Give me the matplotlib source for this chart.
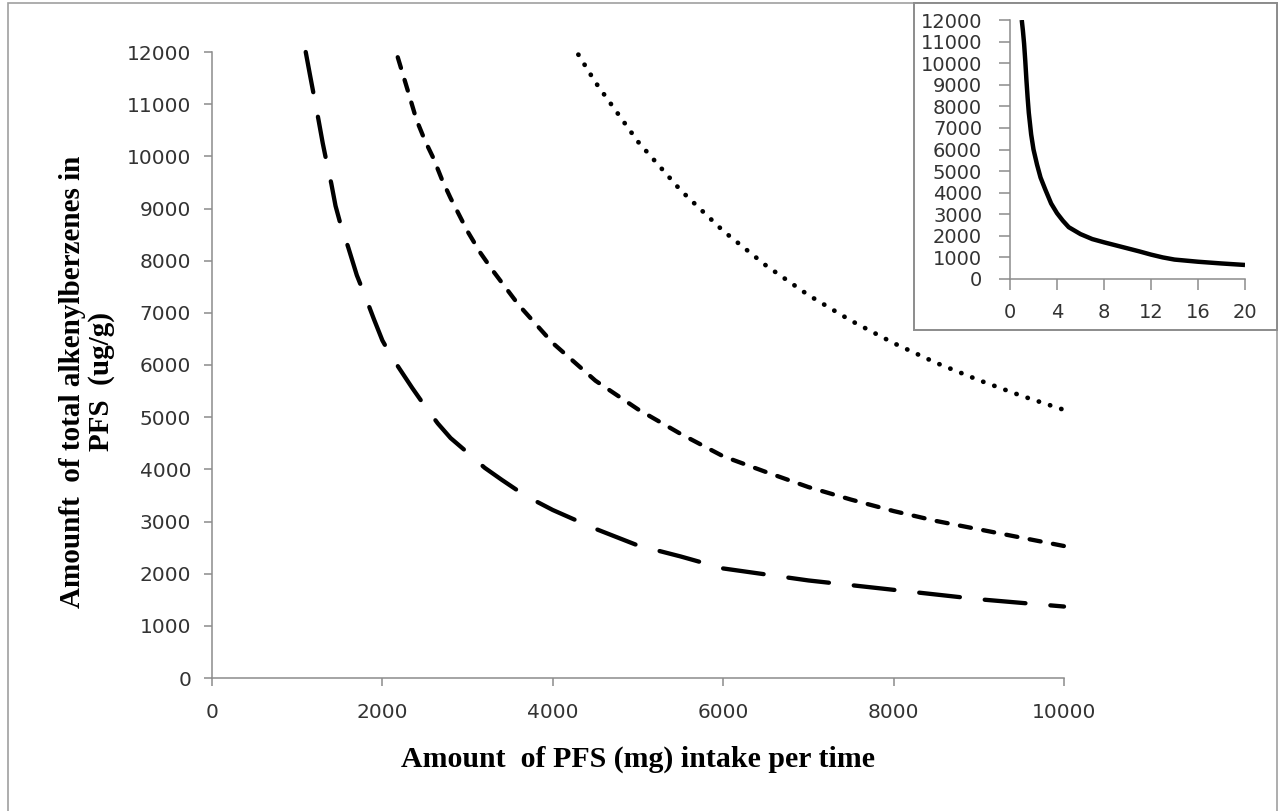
import matplotlib
matplotlib.use("Agg")
import matplotlib.pyplot as plt
from matplotlib.patches import Rectangle

# main chart: three curves (mg of PFS vs ug/g)
x_long = [1100, 1150, 1200, 1250, 1300, 1350, 1400, 1450, 1500, 1600, 1700, 1800, 1900,
          2000, 2100, 2200, 2350, 2500, 2650, 2800, 3000, 3200, 3400, 3600, 3800, 4000,
          4500, 5000, 5500, 6000, 7000, 8000, 9000, 10000]
y_long = [12000, 11560, 11130, 10700, 10250, 9850, 9480, 9050, 8750, 8250, 7720, 7310, 6880,
          6470, 6180, 5930, 5560, 5210, 4880, 4600, 4320, 4030, 3800, 3580, 3390, 3220,
          2860, 2540, 2330, 2100, 1870, 1690, 1510, 1370]

x_short = [2180, 2300, 2400, 2500, 2600, 2700, 2800, 2900, 3000, 3150, 3300, 3600, 4000,
           4500, 5000, 5500, 6000, 6500, 7000, 7500, 8000, 8500, 9000, 9500, 10000]
y_short = [11900, 11250, 10700, 10300, 9960, 9550, 9200, 8880, 8560, 8150, 7800, 7150, 6420,
           5700, 5150, 4680, 4250, 3950, 3660, 3420, 3200, 3010, 2850, 2690, 2530]

x_dot = [4300, 4500, 5000, 5500, 6000, 6500, 7000, 7500, 8000, 8500, 9000, 9500, 10000]
y_dot = [11950, 11420, 10280, 9350, 8570, 7910, 7340, 6850, 6420, 6040, 5710, 5410, 5140]

# inset curve
x_inset = [1.0, 1.1, 1.2, 1.3, 1.4, 1.5, 1.6, 1.8, 2.0, 2.3, 2.6, 3.0, 3.5, 4.0, 4.5, 5.0,
           6, 7, 8, 9, 10, 11, 12, 13, 14, 15, 16, 18, 20]
y_inset = [12000, 11500, 10900, 10100, 9200, 8400, 7700, 6700, 6000, 5300, 4700, 4150, 3500,
           3050, 2700, 2400, 2080, 1850, 1700, 1560, 1420, 1280, 1130, 1000, 900, 850, 800,
           720, 650]

W, H = 1278, 811
fig = plt.figure(figsize=(W / 100, H / 100), dpi=100)
fig.patch.set_facecolor("white")

def fx(px):
    return px / W

def fy(py):
    return 1 - py / H

axis_grey = "#8c8c8c"
tick_col = "#333333"

# outer frame
fig.add_artist(Rectangle((fx(8), -0.01), fx(1277) - fx(8), fy(3) + 0.01,
                         transform=fig.transFigure, fill=False,
                         edgecolor="#a0a0a0", lw=1.2))

ax = fig.add_axes([fx(212), fy(678), fx(1064) - fx(212), fy(52) - fy(678)])
ax.plot(x_long, y_long, color="black", lw=3.1, linestyle=(0, (9.5, 5.8)),
        dash_capstyle="round", clip_on=False)
ax.plot(x_short, y_short, color="black", lw=3.1, linestyle=(0, (2.6, 2.9)),
        dash_capstyle="round", clip_on=False)
ax.plot(x_dot, y_dot, color="black", lw=3.4, linestyle=(0, (0.05, 2.45)),
        dash_capstyle="round", clip_on=False)

ax.set_xlim(0, 10000)
ax.set_ylim(0, 12000)
ax.set_xticks(range(0, 10001, 2000))
ax.set_yticks(range(0, 12001, 1000))
for s in ["top", "right"]:
    ax.spines[s].set_visible(False)
for s in ["left", "bottom"]:
    ax.spines[s].set_color(axis_grey)
    ax.spines[s].set_linewidth(1.1)
ax.tick_params(axis="both", direction="out", length=6, width=1.1, color=axis_grey,
               labelcolor=tick_col, labelsize=14.5)
ax.tick_params(axis="y", pad=9)
ax.tick_params(axis="x", pad=12)

ax.set_xlabel("Amount  of PFS (mg) intake per time", family="Liberation Serif",
              fontweight="bold", fontsize=21.5, labelpad=17)
ax.set_ylabel("Amounft  of total alkenylberzenes in\nPFS  (ug/g)", family="Liberation Serif",
              fontweight="bold", fontsize=21, linespacing=1.05)
ax.yaxis.set_label_coords(-0.114, 0.473)

# inset
fig.add_artist(Rectangle((fx(914), fy(330)), fx(1277) - fx(914), fy(3) - fy(330),
                         transform=fig.transFigure, facecolor="white",
                         edgecolor=axis_grey, lw=1.4, zorder=2))
ins = fig.add_axes([fx(1010), fy(279), fx(1245) - fx(1010), fy(20) - fy(279)], zorder=3)
ins.patch.set_alpha(0)
ins.plot(x_inset, y_inset, color="black", lw=3.2, solid_capstyle="butt",
         solid_joinstyle="round")
ins.set_xlim(0, 20)
ins.set_ylim(0, 12000)
ins.set_xticks(range(0, 21, 4))
ins.set_yticks(range(0, 12001, 1000))
for s in ["top", "right"]:
    ins.spines[s].set_visible(False)
for s in ["left", "bottom"]:
    ins.spines[s].set_color(axis_grey)
    ins.spines[s].set_linewidth(1.1)
ins.tick_params(axis="both", direction="out", length=8, width=1.1, color=axis_grey,
                labelcolor=tick_col, labelsize=14)
ins.tick_params(axis="y", pad=12)
ins.tick_params(axis="x", pad=9)

fig.savefig("out.png", dpi=100)
